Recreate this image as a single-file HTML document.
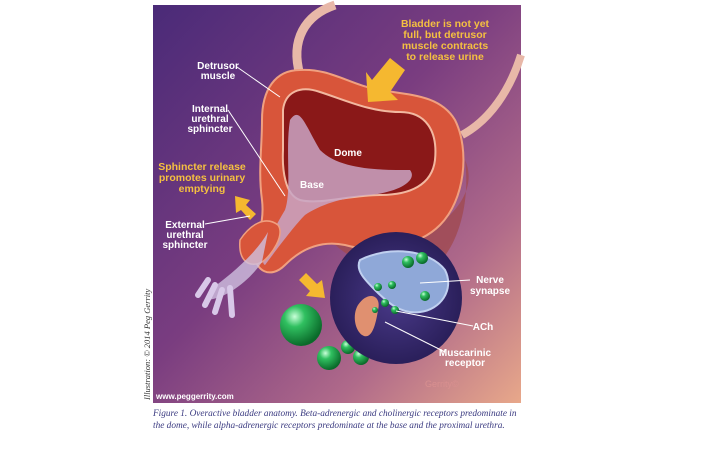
<!DOCTYPE html>
<html><head><style>
body{margin:0;width:710px;height:451px;background:#fff;overflow:hidden;position:relative;font-family:"Liberation Sans",sans-serif}
.cap{position:absolute;left:153px;font-family:"Liberation Serif",serif;font-style:italic;font-size:9.3px;color:#3a3a80;white-space:nowrap}
</style></head><body>
<svg width="710" height="451" style="position:absolute;left:0;top:0">
<defs>
<linearGradient id="bg" x1="0" y1="0" x2="1" y2="1">
<stop offset="0" stop-color="#4a2a78"/><stop offset="0.45" stop-color="#7a3d80"/><stop offset="0.75" stop-color="#b06a8a"/><stop offset="1" stop-color="#e8a88a"/></linearGradient>
<radialGradient id="ball" cx="0.35" cy="0.3" r="0.7"><stop offset="0" stop-color="#c8ffd8"/><stop offset="0.35" stop-color="#30c060"/><stop offset="1" stop-color="#0a6a2a"/></radialGradient>
<radialGradient id="circ" cx="0.5" cy="0.5" r="0.5"><stop offset="0" stop-color="#4a3a8a"/><stop offset="1" stop-color="#2a1f5a"/></radialGradient>
</defs>
<rect x="153" y="5" width="368" height="398" fill="url(#bg)"/>
<path d="M300 75 C290 40 305 15 335 5" stroke="#e8b8a8" stroke-width="9" fill="none"/>
<path d="M462 135 C490 120 510 90 521 55" stroke="#e8b8a8" stroke-width="8" fill="none"/>
<!-- lower outer wall brownish -->
<path d="M330 240 C360 250 420 240 450 215 C470 195 472 175 465 160 C470 200 460 240 440 262 C410 285 360 270 330 240Z" fill="#a04a50" opacity="0.8"/>
<path d="M262 120 C262 90 275 70 300 70 C330 68 350 85 380 90 C410 95 440 95 455 120 C470 150 465 200 440 225 C420 245 380 255 345 245 C320 240 300 250 285 265 C270 280 255 270 255 255 C255 240 265 225 262 200 C258 170 262 150 262 120Z" fill="#d8553a" stroke="#f0a080" stroke-width="2"/>
<path d="M283 110 C285 92 300 85 320 92 C345 100 370 112 400 112 C425 112 438 130 435 160 C432 185 410 195 380 195 C350 195 320 205 300 200 C285 195 282 170 283 150Z" fill="#8a1818" stroke="#f2b8a0" stroke-width="2"/>
<path d="M290 120 C300 105 305 125 320 150 C340 170 380 170 410 170 C418 180 400 192 370 195 C340 198 320 205 305 215 C295 225 280 245 265 265 C258 262 270 235 285 210 C292 190 285 150 290 120Z" fill="#c9a4c4" opacity="0.85"/>
<path d="M240 240 C250 225 265 215 278 225 C285 235 272 255 262 262 C250 268 238 262 240 240Z" fill="#d8553a" stroke="#f0a080" stroke-width="1.5"/>
<path d="M268 232 C255 255 230 275 210 290 L205 300 C225 300 250 280 262 262Z" fill="#d0c0e0" opacity="0.8"/>
<path d="M215 285 L205 305 M222 290 L215 312 M230 288 L232 315 M208 280 L198 295" stroke="#d8c8e8" stroke-width="6" stroke-linecap="round"/>
<polygon points="405,70 390,58 372,80 366,72 368,102 398,100 390,92" fill="#f5b830"/>
<polygon points="235,196 236,213 241,210 250,220 256,214 246,205 250,200" fill="#f5b830"/>
<polygon points="325,298 322,280 317,284 306,273 299,280 310,291 306,296" fill="#f5b830"/>
<circle cx="301" cy="325" r="21" fill="url(#ball)"/>
<circle cx="329" cy="358" r="12" fill="url(#ball)"/>
<circle cx="348" cy="347" r="7" fill="url(#ball)"/>
<circle cx="361" cy="357" r="8" fill="url(#ball)"/>
<circle cx="364" cy="343" r="3" fill="url(#ball)"/>
<circle cx="372" cy="345" r="3" fill="url(#ball)"/>
<circle cx="396" cy="298" r="66" fill="url(#circ)"/>
<path d="M360 260 C390 245 430 250 445 270 C455 290 440 310 420 312 C400 315 385 300 375 290 C365 280 355 270 360 260Z" fill="#8fa8d8" stroke="#c0d0f0" stroke-width="2"/>
<path d="M358 305 C368 290 382 295 378 310 C375 330 370 340 362 335 C355 330 352 315 358 305Z" fill="#e09070"/>
<circle cx="408" cy="262" r="6" fill="url(#ball)"/><circle cx="422" cy="258" r="6" fill="url(#ball)"/><circle cx="425" cy="296" r="5" fill="url(#ball)"/>
<circle cx="378" cy="287" r="4" fill="url(#ball)"/><circle cx="392" cy="285" r="4" fill="url(#ball)"/><circle cx="385" cy="303" r="4" fill="url(#ball)"/><circle cx="395" cy="310" r="4" fill="url(#ball)"/><circle cx="375" cy="310" r="3" fill="url(#ball)"/>
<g stroke="#fff" stroke-width="1">
<line x1="237" y1="67" x2="280" y2="97"/>
<line x1="228" y1="110" x2="285" y2="196"/>
<line x1="205" y1="224" x2="250" y2="216"/>
<line x1="470" y1="280" x2="420" y2="283"/>
<line x1="473" y1="326" x2="396" y2="311"/>
<line x1="445" y1="352" x2="385" y2="322"/>
</g>
<g font-family="Liberation Sans,sans-serif" font-weight="bold" font-size="10" text-anchor="middle" fill="#fff">
<text x="218" y="69">Detrusor</text><text x="218" y="79">muscle</text>
<text x="210" y="112">Internal</text><text x="210" y="122">urethral</text><text x="210" y="132">sphincter</text>
<text x="185" y="228">External</text><text x="185" y="238">urethral</text><text x="185" y="248">sphincter</text>
<text x="348" y="156">Dome</text><text x="312" y="188">Base</text>
<text x="490" y="283">Nerve</text><text x="490" y="294">synapse</text>
<text x="483" y="330">ACh</text>
<text x="465" y="356">Muscarinic</text><text x="465" y="366">receptor</text>
</g>
<g font-family="Liberation Sans,sans-serif" font-weight="bold" font-size="10.5" text-anchor="middle" fill="#f5c040">
<text x="445" y="27">Bladder is not yet</text><text x="445" y="38">full, but detrusor</text><text x="445" y="49">muscle contracts</text><text x="445" y="60">to release urine</text>
<text x="202" y="170">Sphincter release</text><text x="202" y="181">promotes urinary</text><text x="202" y="192">emptying</text>
</g>
<text x="156" y="399" font-family="Liberation Sans,sans-serif" font-weight="bold" font-size="8" fill="#fff">www.peggerrity.com</text>
<text x="425" y="387" font-family="Liberation Sans,sans-serif" font-size="9" fill="#d89090">Gerrity©</text>
<text transform="translate(150,400) rotate(-90)" font-family="Liberation Serif,serif" font-style="italic" font-size="8.5" fill="#333">Illustration: © 2014 Peg Gerrity</text>
</svg>
<div class="cap" style="top:409px">Figure 1. Overactive bladder anatomy. Beta-adrenergic and cholinergic receptors predominate in</div>
<div class="cap" style="top:421px">the dome, while alpha-adrenergic receptors predominate at the base and the proximal urethra.</div>
</body></html>
